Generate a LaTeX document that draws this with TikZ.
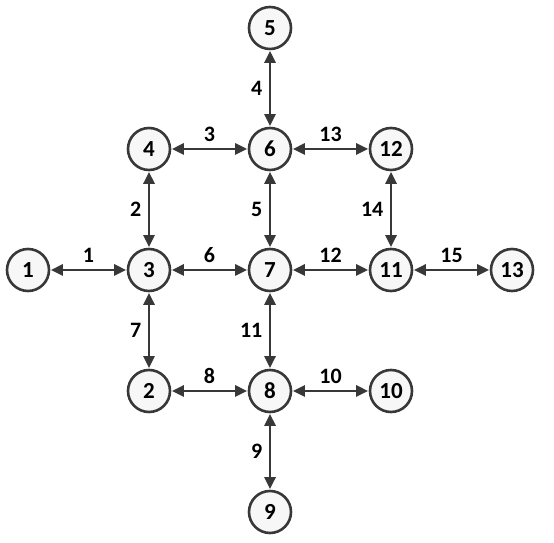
\documentclass[tikz,border=0pt]{standalone}
\usepackage{fontspec}
\setsansfont{Carlito}
\usetikzlibrary{arrows.meta}

\definecolor{rimGray}{HTML}{383838}
\definecolor{discFill}{HTML}{F7F7F7}

\begin{document}
\begin{tikzpicture}[
		x=121pt, y=121pt,
		font=\sffamily\bfseries,
		% Styles
		vertex/.style={circle, draw=rimGray, fill=discFill, line width=2.6pt, minimum size=42pt, inner sep=0pt, font=\sffamily\bfseries\fontsize{23}{23}\selectfont},
		link/.style={{Triangle[length=12pt, width=11pt]}-{Triangle[length=12pt, width=11pt]}, line width=2.6pt, draw=rimGray, shorten <=0.5pt, shorten >=0.5pt},
		hlabel/.style={midway, above=3pt, font=\sffamily\bfseries\fontsize{22}{22}\selectfont},
		vlabel/.style={midway, left=3pt, font=\sffamily\bfseries\fontsize{22}{22}\selectfont}
		]
		\useasboundingbox (-28pt,-31pt) rectangle (526pt,512pt);
		
		% =========================================================
		% 1. VERTICES
		% =========================================================
		\node[vertex] (N5)  at (2, 4) {5};
		
		\node[vertex] (N4)  at (1, 3) {4};
		\node[vertex] (N6)  at (2, 3) {6};
		\node[vertex] (N12) at (3, 3) {12};
		
		\node[vertex] (N1)  at (0, 2) {1};
		\node[vertex] (N3)  at (1, 2) {3};
		\node[vertex] (N7)  at (2, 2) {7};
		\node[vertex] (N11) at (3, 2) {11};
		\node[vertex] (N13) at (4, 2) {13};
		
		\node[vertex] (N2)  at (1, 1) {2};
		\node[vertex] (N8)  at (2, 1) {8};
		\node[vertex] (N10) at (3, 1) {10};
		
		\node[vertex] (N9)  at (2, 0) {9};
		
		% =========================================================
		% 2. HORIZONTAL LINKS
		% =========================================================
		\draw[link] (N1) -- node[hlabel] {1} (N3);
		\draw[link] (N4) -- node[hlabel] {3} (N6);
		\draw[link] (N3) -- node[hlabel] {6} (N7);
		\draw[link] (N2) -- node[hlabel] {8} (N8);
		\draw[link] (N8) -- node[hlabel] {10} (N10);
		\draw[link] (N7) -- node[hlabel] {12} (N11);
		\draw[link] (N6) -- node[hlabel] {13} (N12);
		\draw[link] (N11) -- node[hlabel] {15} (N13);
		
		% =========================================================
		% 3. VERTICAL LINKS
		% =========================================================
		\draw[link] (N4) -- node[vlabel] {2} (N3);
		\draw[link] (N5) -- node[vlabel] {4} (N6);
		\draw[link] (N6) -- node[vlabel] {5} (N7);
		\draw[link] (N3) -- node[vlabel] {7} (N2);
		\draw[link] (N8) -- node[vlabel] {9} (N9);
		\draw[link] (N7) -- node[vlabel] {11} (N8);
		\draw[link] (N12) -- node[vlabel] {14} (N11);
		
	\end{tikzpicture}
\end{document}
